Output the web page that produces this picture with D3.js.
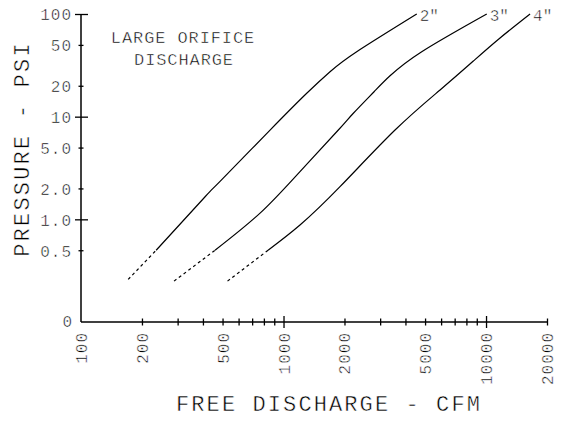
<!DOCTYPE html>
<html><head>
<meta charset="utf-8">
<title>Large orifice discharge</title>
<script src="https://d3js.org/d3.v7.min.js"></script>
<style>
  body { margin: 0; background: #fff; }
  /* thin plotter look: white stroke drawn over the fill erodes the glyphs */
  svg text { font-family: "Liberation Mono", "DejaVu Sans Mono", monospace; fill: #000;
             stroke: #fff; stroke-width: 0.5px; }
  .axis .domain { stroke: #000; stroke-width: 1.5; }
  .axis line { stroke: #000; stroke-width: 1.3; }
  .tick text { font-size: 16px; letter-spacing: 1px; }
  .curve { fill: none; stroke: #000; stroke-width: 1.2; }
  .curve.dash { stroke-dasharray: 3,3; }
</style>
</head>
<body>
<svg id="chart" width="561" height="421"></svg>
<script>
// values (CFM vs PSI, 3 nozzle sizes)
const sizes = ['2"', '3"', '4"'];
const cfm2 = [171, 235, 410, 486, 858, 1302, 1697, 2298, 4550];
const psi2 = [0.26, 0.5, 1.66, 2.34, 7.4, 16.9, 27.4, 42.9, 100];
const cfm3 = [288, 459, 766, 1206, 1865, 2212, 2800, 3357, 4813, 10080];
const psi3 = [0.25, 0.5, 1.15, 2.92, 7.41, 10.8, 17.5, 25.0, 42.9, 100];
const cfm4 = [529, 839, 1206, 1901, 3553, 5929, 8656, 11725, 16500];
const psi4 = [0.25, 0.5, 0.88, 2.08, 7.41, 18.2, 34.8, 58.4, 100];

// tick values
const xTicks = [200, 300, 400, 500, 600, 700, 800, 900, 1000,
                2000, 3000, 4000, 5000, 6000, 7000, 8000, 9000, 10000, 20000];
const xLabels = [100, 200, 500, 1000, 2000, 5000, 10000, 20000];
const xMajor = [1000, 10000];
const yTicks = [100, 50, 20, 10, 5, 2, 1, 0.5];
const yLabelText = ["100", "50", "20", "10", "5.0", "2.0", "1.0", "0.5"];
const yMajor = [100, 10, 1];

let svg = d3.select("svg#chart");
let margin = { top: 14, right: 14, bottom: 99, left: 81 };
let width = +svg.attr("width"), height = +svg.attr("height");

// log scales; bottom of y axis (labelled "0") sits at 0.1
const x = d3.scaleLog().domain([100, 20000]).range([margin.left, width - margin.right]);
const y = d3.scaleLog().domain([0.1, 100]).range([height - margin.bottom, margin.top]);
const y0 = y(0.1);

// X axis
let xAxis = svg.append("g").attr("class", "x axis")
  .attr("transform", "translate(0," + y0 + ")")
  .call(d3.axisBottom(x).tickValues(xTicks).tickSizeOuter(0).tickFormat(""));
xAxis.selectAll(".tick line")
  .attr("y1", d => xMajor.includes(d) ? -6 : -3.5)
  .attr("y2", d => xMajor.includes(d) ? 6 : 3.5);
xAxis.select(".domain").attr("d", "M" + x(100) + ",0H" + x(20000));

// x labels, rotated
svg.append("g").selectAll("text").data(xLabels).join("text")
  .attr("transform", d => "translate(" + (x(d) + 6) + "," + (y0 + 10) + ") rotate(-90)")
  .attr("text-anchor", "end")
  .style("font-size", "16px").style("letter-spacing", "1px")
  .text(d => d);

// Y axis
let yAxis = svg.append("g").attr("class", "y axis")
  .attr("transform", "translate(" + x(100) + ",0)")
  .call(d3.axisLeft(y).tickValues(yTicks).tickSizeOuter(0)
        .tickFormat((d, i) => yLabelText[i]).tickPadding(4));
yAxis.selectAll(".tick line")
  .attr("x1", d => yMajor.includes(d) ? 7 : 2.5)
  .attr("x2", d => yMajor.includes(d) ? -6 : -2.5);
yAxis.selectAll(".tick text").attr("x", -9).attr("dy", "0.36em");
yAxis.select(".domain").attr("d", "M0," + y(100) + "V" + y0);

svg.append("text").attr("x", x(100) - 9).attr("y", y0 + 5)
  .attr("text-anchor", "end").style("font-size", "16px").text("0");

// curves: dashed below 0.5 psi, solid above
const line = d3.line().x(d => x(d[0])).y(d => y(d[1])).curve(d3.curveNatural);
const series = [[cfm2, psi2], [cfm3, psi3], [cfm4, psi4]];
series.forEach((s, k) => {
  let pts = s[0].map((c, i) => [c, s[1][i]]);
  let cut = pts.findIndex(p => p[1] >= 0.5);
  svg.append("path").attr("class", "curve dash").attr("d", line(pts.slice(0, cut + 1)));
  svg.append("path").attr("class", "curve").attr("d", line(pts.slice(cut)));
  let end = pts[pts.length - 1];
  svg.append("text")
    .attr("x", x(end[0]) + 3).attr("y", y(end[1]) + 7)
    .style("font-size", "16px")
    .text(sizes[k]);
});

// titles
svg.append("text")
  .attr("transform", "translate(29,149) rotate(-90)")
  .attr("text-anchor", "middle")
  .style("font-size", "22px").style("letter-spacing", "2.2px")
  .text("PRESSURE - PSI");

svg.append("text")
  .attr("x", 329).attr("y", 411)
  .attr("text-anchor", "middle")
  .style("font-size", "22px").style("letter-spacing", "2.1px")
  .text("FREE DISCHARGE - CFM");

svg.append("text").attr("x", 183).attr("y", 43).attr("text-anchor", "middle")
  .style("font-size", "17px").style("letter-spacing", "0.9px").text("LARGE ORIFICE");
svg.append("text").attr("x", 184).attr("y", 65).attr("text-anchor", "middle")
  .style("font-size", "17px").style("letter-spacing", "0.9px").text("DISCHARGE");
</script>
</body>
</html>
